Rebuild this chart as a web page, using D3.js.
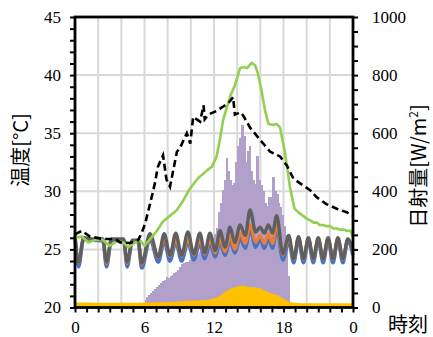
<!DOCTYPE html>
<html>
<head>
<meta charset="utf-8">
<script src="https://cdn.jsdelivr.net/npm/d3@7"></script>
<style>
  html, body { margin: 0; padding: 0; background: #fff; }
  svg { display: block; }
</style>
</head>
<body>
<svg id="chart" width="433" height="337"></svg>
<script>
// ---- data ----
// outdoor air temperature (dashed), [hour, °C]
const outdoorTemp = [
  [0, 26.3], [0.58, 26.6], [1.3, 26.1], [2.4, 25.9], [3.45, 25.9], [3.9, 25.6],
  [4.75, 25.55], [5.45, 25.8], [5.75, 26.4], [6.05, 27.2], [6.5, 29.0], [6.9, 30.7],
  [7.15, 32.1], [7.6, 33.1], [7.9, 31.0], [8.2, 30.4], [8.8, 33.4], [9.05, 33.7],
  [9.65, 35.0], [9.95, 34.1], [10.2, 36.4], [10.8, 36.0], [11.1, 37.4], [11.2, 36.2],
  [11.5, 36.6], [12.2, 36.9], [12.8, 37.3], [13.25, 37.6], [13.65, 38.1], [13.8, 36.6],
  [14.25, 36.8], [14.5, 36.55], [15.1, 35.5], [16.0, 34.4], [16.85, 33.4], [17.7, 33.0],
  [18.3, 32.2], [18.85, 31.1], [19.7, 30.5], [20.3, 30.1], [20.85, 29.5], [21.7, 28.9],
  [22.6, 28.5], [23.45, 28.2], [24, 27.9]
];

// surface temperature (green), [hour, °C]
const surfaceTemp = [
  [0, 26.0], [0.6, 26.1], [1.15, 25.6], [1.7, 25.8], [2.3, 25.9], [3.0, 25.3],
  [3.6, 25.7], [4.15, 25.6], [4.6, 25.2], [5.2, 25.6], [5.6, 25.8], [6.0, 25.3],
  [6.5, 25.9], [7.0, 26.5], [7.6, 27.4], [8.2, 27.9], [8.8, 28.4], [9.4, 29.3],
  [9.9, 30.2], [10.6, 31.1], [11.4, 31.8], [11.8, 32.1], [12.2, 32.9], [12.5, 34.4],
  [12.8, 36.2], [13.4, 38.2], [13.8, 39.1], [14.25, 40.6], [14.55, 40.7], [14.85, 40.6],
  [15.25, 41.05], [15.55, 40.85], [15.8, 40.1], [16.1, 38.7], [16.4, 37.0], [16.7, 35.8],
  [17.1, 35.7], [17.4, 35.8], [17.7, 35.5], [18.1, 33.5], [18.55, 30.4], [18.95, 28.5],
  [19.4, 28.1], [20.0, 27.65], [20.3, 27.5], [20.6, 27.3], [20.9, 27.3], [21.1, 27.1],
  [21.4, 27.1], [21.7, 27.0], [22.0, 27.0], [22.3, 26.8], [22.6, 26.8], [22.9, 26.7],
  [23.2, 26.7], [23.45, 26.6], [23.8, 26.6], [24, 26.0]
];

// room temperatures at three heights (cycling air conditioner)
const roomHours = [
  0, 0.3, 0.75, 1.6, 2.4, 2.72, 3.15, 4.2, 4.5, 4.95, 5.45, 5.76,
  6.47, 7.19, 7.7, 8.2, 8.7, 9.2, 9.75, 10.25, 10.78, 11.2, 11.65, 12.1,
  12.52, 12.95, 13.38, 13.8, 14.25, 14.7, 15.11, 15.6, 15.97, 16.35, 16.69, 17.05,
  17.41, 17.95, 18.45, 18.88, 19.3, 19.72, 20.15, 20.57, 21.0, 21.42, 21.85, 22.27,
  22.7, 23.12, 23.55, 24
];
const roomUpper = [
  26.2, 23.9, 26.0, 25.9, 25.9, 23.9, 25.9, 25.9, 23.9, 25.8, 25.8, 23.8,
  26.35, 24.35, 26.35, 24.5, 26.4, 24.5, 26.5, 24.6, 26.4, 24.7, 26.4, 24.9,
  26.6, 25.2, 26.9, 25.6, 27.1, 26.2, 28.4, 26.5, 26.9, 26.4, 27.1, 26.4,
  27.9, 24.6, 26.2, 24.2, 26.1, 24.2, 26.0, 24.2, 26.0, 24.2, 26.0, 24.2,
  26.0, 24.2, 25.9, 24.9
];
const roomMiddle = [
  26.15, 23.85, 25.95, 25.85, 25.8, 23.8, 25.85, 25.8, 23.8, 25.75, 25.7, 23.7,
  26.2, 24.3, 26.0, 24.4, 25.9, 24.4, 25.9, 24.5, 25.8, 24.6, 25.8, 24.7,
  25.9, 24.8, 26.1, 25.0, 26.35, 25.5, 27.1, 25.6, 26.2, 25.5, 26.35, 25.5,
  27.1, 24.5, 25.95, 24.15, 26.05, 24.15, 25.95, 24.15, 25.95, 24.15, 25.95, 24.15,
  25.95, 24.15, 25.85, 24.85
];
const roomLower = [
  26.1, 23.5, 25.9, 25.8, 25.75, 23.5, 25.8, 25.75, 23.5, 25.7, 25.65, 23.4,
  25.9, 23.9, 25.7, 24.0, 25.6, 24.0, 25.6, 24.1, 25.5, 24.2, 25.5, 24.35,
  25.6, 24.5, 25.8, 24.7, 26.0, 25.1, 26.8, 25.2, 25.9, 25.1, 26.0, 25.1,
  26.8, 24.1, 25.7, 23.85, 25.9, 23.85, 25.85, 23.85, 25.85, 23.85, 25.85, 23.85,
  25.85, 23.85, 25.75, 24.5
];

// global solar radiation, 10-minute values [W/m²] starting at 05:40
const solarStartHour = 5 + 40 / 60;
const solarStepHour = 10 / 60;
const solarRadiation = [
  5, 15, 25, 35, 42, 50, 57, 62, 70, 78, 85, 90,
  96, 104, 100, 108, 112, 120, 122, 128, 140, 150, 152, 155,
  158, 165, 170, 175, 180, 185, 190, 195, 198, 210, 222, 228,
  232, 240, 252, 275, 330, 360, 405, 440, 515, 470, 440, 420,
  430, 500, 555, 585, 628, 590, 500, 540, 555, 470, 440, 425,
  520, 440, 420, 400, 360, 350, 380, 380, 450, 400, 390, 360,
  345, 320, 280, 250, 110, 0
];

// transmitted solar radiation, half-hourly [W/m²] from 00:00
const transmittedHours = [
  0, 0.5, 1, 1.5, 2, 2.5, 3, 3.5, 4, 4.5, 5, 5.5, 6, 6.5, 7, 7.5, 8, 8.5,
  9, 9.5, 10, 10.5, 11, 11.5, 12, 12.5, 13, 13.5, 14, 14.5, 15, 15.5, 16, 16.5,
  17, 17.5, 18, 18.5, 19, 19.5, 20, 20.5, 21, 21.5, 22, 22.5, 23, 23.5, 24
];
const transmitted = [
  17, 17, 17, 16, 16, 16, 16, 16, 16, 16, 16, 16, 17, 17, 18, 18, 19, 20,
  21, 22, 23, 24, 25, 27, 31, 40, 55, 66, 72, 76, 71, 70, 66, 56,
  48, 42, 30, 19, 16, 15, 15, 15, 15, 15, 15, 15, 15, 15, 15
];

// axis ticks
const hourTicks = [0, 6, 12, 18, 24];
const hourTickLabels = ["0", "6", "12", "18", "0"];
const tempTicks = [20, 25, 30, 35, 40, 45];
const solarTicks = [0, 200, 400, 600, 800, 1000];

// ---- layout ----
const svg = d3.select("#chart");
const plotLeft = 75, plotRight = 353, plotTop = 17, plotBottom = 307.5;

const x = d3.scaleLinear().domain([0, 24]).range([plotLeft, plotRight]);
const yT = d3.scaleLinear().domain([20, 45]).range([plotBottom, plotTop]);
const yS = d3.scaleLinear().domain([0, 1000]).range([plotBottom, plotTop]);

const serif = "'Liberation Serif', 'Times New Roman', serif";
const gothic = "'Noto Sans CJK JP', 'Noto Sans', sans-serif";

// grid
const grid = svg.append("g").attr("stroke", "#d9d9d9").attr("stroke-width", 2);
grid.selectAll("line.h").data(tempTicks.filter(d => d > 20 && d < 45)).join("line")
  .attr("class", "h")
  .attr("x1", plotLeft).attr("x2", plotRight)
  .attr("y1", d => yT(d)).attr("y2", d => yT(d));
grid.selectAll("line.v").data(d3.range(2, 24, 2)).join("line")
  .attr("class", "v")
  .attr("y1", plotTop).attr("y2", plotBottom)
  .attr("x1", d => x(d)).attr("x2", d => x(d));

// solar radiation bars
svg.append("g").attr("fill", "#b1a0c9").attr("shape-rendering", "crispEdges")
  .selectAll("rect").data(solarRadiation).join("rect")
  .attr("x", (d, i) => x(solarStartHour + i * solarStepHour))
  .attr("width", (d, i) => x(solarStartHour + (i + 1) * solarStepHour) - x(solarStartHour + i * solarStepHour) + 0.8)
  .attr("y", d => yS(d))
  .attr("height", d => yS(0) - yS(d));

// transmitted radiation area
svg.append("path")
  .datum(transmittedHours.map((h, i) => [h, transmitted[i]]))
  .attr("fill", "#ffc000")
  .attr("d", d3.area().x(d => x(d[0])).y0(yS(0)).y1(d => yS(d[1])));

// room temperature lines
const roomLine = d3.line().x(d => x(d[0])).y(d => yT(d[1])).curve(d3.curveMonotoneX);
[[roomLower, "#4472c4", 3.6], [roomMiddle, "#ed7d31", 3.2], [roomUpper, "#5f5f5f", 3.4]]
  .forEach(([vals, color, w]) => {
    svg.append("path")
      .datum(roomHours.map((h, i) => [h, vals[i]]))
      .attr("fill", "none").attr("stroke", color).attr("stroke-width", w)
      .attr("stroke-linejoin", "round")
      .attr("d", roomLine);
  });

// surface temperature
const line = d3.line().x(d => x(d[0])).y(d => yT(d[1]));
svg.append("path").datum(surfaceTemp)
  .attr("fill", "none").attr("stroke", "#92d050").attr("stroke-width", 2.6)
  .attr("stroke-linejoin", "round")
  .attr("d", line);

// outdoor temperature
svg.append("path").datum(outdoorTemp)
  .attr("fill", "none").attr("stroke", "#000").attr("stroke-width", 2.6)
  .attr("stroke-dasharray", "7,4")
  .attr("d", line);

// axes
function styleAxis(g) {
  g.select(".domain").remove();
  g.selectAll(".tick line").attr("stroke", "#000").attr("stroke-width", 2);
  g.selectAll(".tick text").attr("fill", "#000")
    .style("font-family", serif).style("font-size", "17px");
}

svg.append("g").attr("transform", `translate(${plotLeft},0)`)
  .call(d3.axisLeft(yT).tickValues(d3.range(20, 46, 1)).tickSize(5).tickPadding(9)
    .tickFormat(d => tempTicks.includes(d) ? d : ""))
  .call(styleAxis);

svg.append("g").attr("transform", `translate(${plotRight},0)`)
  .call(d3.axisRight(yS).tickValues(d3.range(0, 1001, 50)).tickSize(5).tickPadding(14)
    .tickFormat(d => solarTicks.includes(d) ? d : ""))
  .call(styleAxis);

svg.append("g").attr("transform", `translate(0,${plotBottom})`)
  .call(d3.axisBottom(x).tickValues(d3.range(0, 25, 1)).tickSize(5).tickPadding(8)
    .tickFormat(d => hourTicks.includes(d) ? hourTickLabels[hourTicks.indexOf(d)] : ""))
  .call(styleAxis);

// frame
svg.append("rect")
  .attr("x", plotLeft).attr("y", plotTop)
  .attr("width", plotRight - plotLeft).attr("height", plotBottom - plotTop)
  .attr("fill", "none").attr("stroke", "#000").attr("stroke-width", 2.8);

// titles
svg.append("text")
  .attr("transform", "translate(28,150) rotate(-90)")
  .attr("text-anchor", "middle")
  .attr("fill", "#000")
  .style("font-family", gothic).style("font-size", "20px")
  .text("温度[°C]");

const rt = svg.append("text")
  .attr("transform", "translate(426,166) rotate(-90)")
  .attr("text-anchor", "middle")
  .attr("fill", "#000")
  .style("font-family", gothic).style("font-size", "20px");
rt.append("tspan").attr("fill", "#000").text("日射量[W/m");
rt.append("tspan").attr("fill", "#000").attr("dy", -8).style("font-size", "12px").text("2");
rt.append("tspan").attr("fill", "#000").attr("dy", 8).text("]");

svg.append("text")
  .attr("x", 388).attr("y", 332)
  .attr("fill", "#000")
  .style("font-family", gothic).style("font-size", "20px")
  .text("時刻");
</script>
</body>
</html>
